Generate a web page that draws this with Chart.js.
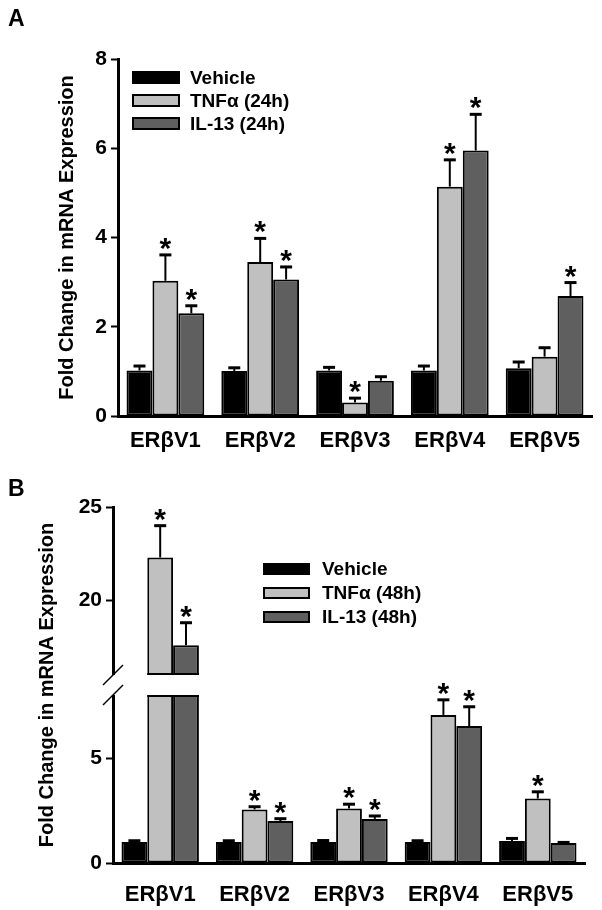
<!DOCTYPE html>
<html>
<head>
<meta charset="utf-8">
<script src="https://cdn.jsdelivr.net/npm/chart.js@4.4.1/dist/chart.umd.min.js"></script>
<style>
  body { margin: 0; background: #fff; }
  #wrap { position: relative; width: 602px; height: 910px; }
  canvas { position: absolute; left: 0; }
  .panel { position: absolute; left: 8px; font: bold 23px "Liberation Sans", Arial, sans-serif; line-height: 1; }
</style>
</head>
<body>
<div id="wrap">
  <canvas id="chartA" width="602" height="455" style="top:0"></canvas>
  <canvas id="chartB" width="602" height="455" style="top:455px"></canvas>
  <div class="panel" style="top:7px">A</div>
  <div class="panel" style="top:477px">B</div>
</div>
<script>
const FONT = '"Liberation Sans", Arial, sans-serif';
const categories = ['ERβV1', 'ERβV2', 'ERβV3', 'ERβV4', 'ERβV5'];
const seriesColors = ['#000000', '#c0c0c0', '#5f5f5f'];

// Panel A (24h)
const labelsA = ['Vehicle', 'TNFα (24h)', 'IL-13 (24h)'];
const vehicleA = [1.02, 1.01, 1.02, 1.02, 1.07];
const vehicleErrA = [0.10, 0.07, 0.07, 0.10, 0.14];
const tnfA = [3.03, 3.45, 0.30, 5.14, 1.33];
const tnfErrA = [0.58, 0.53, 0.10, 0.60, 0.20];
const il13A = [2.30, 3.06, 0.79, 5.95, 2.69];
const il13ErrA = [0.17, 0.28, 0.09, 0.81, 0.30];
const sigTnfA = [1, 1, 1, 1, 0];
const sigIl13A = [1, 1, 0, 1, 1];
const ticksA = [0, 2, 4, 6, 8];

// Panel B (48h), broken axis
const labelsB = ['Vehicle', 'TNFα (48h)', 'IL-13 (48h)'];
const vehicleB = [1.00, 1.00, 1.00, 1.00, 1.05];
const vehicleErrB = [0.06, 0.06, 0.07, 0.06, 0.12];
const tnfB = [22.3, 2.55, 2.60, 7.05, 3.07];
const tnfErrB = [1.70, 0.13, 0.20, 0.72, 0.32];
const il13B = [17.6, 2.00, 2.10, 6.52, 0.95];
const il13ErrB = [1.20, 0.11, 0.14, 0.92, 0.03];
const sigTnfB = [1, 1, 1, 1, 1];
const sigIl13B = [1, 1, 1, 1, 0];
const ticksB = [0, 5, 20, 25];
const breakLow = 8;    // top of the lower segment
const breakHigh = 16;  // bottom of the upper segment
const breakGap = 20;   // pixels between the segments

// linear scale with a gap between breakLow and breakHigh
class BrokenLinear extends Chart.LinearScale {
  buildTicks() {
    return ticksB.map(v => ({ value: v }));
  }
  getPixelForValue(value) {
    const half = (this.bottom - this.top - breakGap) / 2;
    if (value <= breakLow) return this.bottom - (value - this.min) / (breakLow - this.min) * half;
    if (value >= breakHigh) return this.top + half - (value - breakHigh) / (this.max - breakHigh) * half;
    return this.bottom - half - (value - breakLow) / (breakHigh - breakLow) * breakGap;
  }
  getValueForPixel(pixel) {
    const half = (this.bottom - this.top - breakGap) / 2;
    if (pixel >= this.bottom - half) return this.min + (this.bottom - pixel) / half * (breakLow - this.min);
    if (pixel <= this.top + half) return breakHigh + (this.top + half - pixel) / half * (this.max - breakHigh);
    return breakLow + (this.bottom - half - pixel) / breakGap * (breakHigh - breakLow);
  }
}
BrokenLinear.id = 'brokenLinear';
BrokenLinear.defaults = {};
Chart.register(BrokenLinear);

// error bars, asterisks, legend and the axis break
const barExtras = {
  id: 'barExtras',
  afterDatasetsDraw(chart, args, opts) {
    const ctx = chart.ctx;
    const y = chart.scales.y;
    const area = chart.chartArea;
    ctx.save();

    if (opts.broken) {
      const pHigh = y.getPixelForValue(breakHigh);
      const pLow = y.getPixelForValue(breakLow);
      ctx.fillStyle = '#fff';
      ctx.fillRect(area.left - 8, pHigh, area.right - area.left + 14, pLow - pHigh);
      ctx.strokeStyle = '#000';
      ctx.lineWidth = 2;
      chart.data.datasets.forEach((ds, di) => {
        chart.getDatasetMeta(di).data.forEach((bar, i) => {
          if (ds.data[i] <= breakHigh) return;
          ctx.beginPath();
          ctx.moveTo(bar.x - bar.width / 2, pHigh - 1);
          ctx.lineTo(bar.x + bar.width / 2, pHigh - 1);
          ctx.moveTo(bar.x - bar.width / 2, pLow + 1);
          ctx.lineTo(bar.x + bar.width / 2, pLow + 1);
          ctx.stroke();
        });
      });
      ctx.lineWidth = 1.5;
      [pHigh, pLow].forEach(py => {
        ctx.beginPath();
        ctx.moveTo(area.left - 10, py + 10);
        ctx.lineTo(area.left + 10, py - 10);
        ctx.stroke();
      });
    }

    ctx.font = 'bold 30px ' + FONT;
    const star = ctx.measureText('*');
    chart.data.datasets.forEach((ds, di) => {
      chart.getDatasetMeta(di).data.forEach((bar, i) => {
        const top = y.getPixelForValue(ds.data[i] + ds.errors[i]);
        ctx.strokeStyle = '#000';
        ctx.lineWidth = 2;
        ctx.beginPath();
        ctx.moveTo(bar.x, bar.y);
        ctx.lineTo(bar.x, top);
        ctx.stroke();
        ctx.lineWidth = 3;
        ctx.beginPath();
        ctx.moveTo(bar.x - 6, top);
        ctx.lineTo(bar.x + 6, top);
        ctx.stroke();
        if (ds.sig && ds.sig[i]) {
          // glyph bottom sits a few px above the cap
          ctx.fillStyle = '#000';
          ctx.textAlign = 'center';
          ctx.textBaseline = 'alphabetic';
          ctx.fillText('*', bar.x, top - 5 - star.actualBoundingBoxDescent);
        }
      });
    });

    // legend
    ctx.font = 'bold 19px ' + FONT;
    ctx.textAlign = 'left';
    ctx.textBaseline = 'middle';
    chart.data.datasets.forEach((ds, di) => {
      const ry = opts.legendY + di * opts.legendStep;
      ctx.fillStyle = ds.backgroundColor;
      ctx.fillRect(opts.legendX, ry, opts.boxW, opts.boxH);
      ctx.strokeStyle = '#000';
      ctx.lineWidth = 2;
      ctx.strokeRect(opts.legendX + 1, ry + 1, opts.boxW - 2, opts.boxH - 2);
      ctx.fillStyle = '#000';
      ctx.fillText(ds.label, opts.legendX + opts.boxW + opts.textGap, ry + opts.boxH / 2 + 1);
    });
    ctx.restore();
  }
};

function makeDatasets(labels, values, errors, sigs) {
  return labels.map((label, k) => ({
    label: label,
    data: values[k],
    errors: errors[k],
    sig: sigs[k],
    backgroundColor: seriesColors[k],
    borderColor: '#000',
    borderWidth: 2,
    borderSkipped: false
  }));
}

function makeOptions(cfg) {
  const boldFont = size => ({ family: FONT, size: size, weight: 'bold' });
  return {
    responsive: false,
    animation: false,
    layout: { padding: cfg.padding },
    datasets: { bar: { categoryPercentage: 0.82, barPercentage: 1.0 } },
    scales: {
      x: {
        grid: { display: false, drawTicks: false },
        border: { display: true, color: '#000', width: 3 },
        ticks: { color: '#000', font: boldFont(22), padding: cfg.xPad, maxRotation: 0 },
        afterFit: s => { s.height = cfg.xHeight; }
      },
      y: Object.assign({
        min: 0,
        max: cfg.yMax,
        grid: { drawOnChartArea: false, drawTicks: true, tickLength: 7, tickWidth: 2, tickColor: '#000' },
        border: { display: true, color: '#000', width: 3 },
        ticks: { color: '#000', font: boldFont(21), padding: 4 },
        title: { display: true, text: 'Fold Change in mRNA Expression', color: '#000', font: boldFont(20), padding: { top: 5, bottom: 0 } },
        afterFit: s => { s.width = cfg.yWidth; }
      }, cfg.yExtra),
    },
    plugins: {
      legend: { display: false },
      tooltip: { enabled: false },
      barExtras: cfg.extras
    }
  };
}

new Chart(document.getElementById('chartA'), {
  type: 'bar',
  data: {
    labels: categories,
    datasets: makeDatasets(labelsA, [vehicleA, tnfA, il13A], [vehicleErrA, tnfErrA, il13ErrA], [null, sigTnfA, sigIl13A])
  },
  options: makeOptions({
    padding: { left: 50, right: 10, top: 59, bottom: 0 },
    xPad: 12, xHeight: 39, yWidth: 68, yMax: 8,
    yExtra: { afterBuildTicks: s => { s.ticks = ticksA.map(v => ({ value: v })); } },
    extras: { broken: false, legendX: 132, legendY: 71, legendStep: 23, boxW: 48, boxH: 13, textGap: 10 }
  }),
  plugins: [barExtras]
});

new Chart(document.getElementById('chartB'), {
  type: 'bar',
  data: {
    labels: categories,
    datasets: makeDatasets(labelsB, [vehicleB, tnfB, il13B], [vehicleErrB, tnfErrB, il13ErrB], [null, sigTnfB, sigIl13B])
  },
  options: makeOptions({
    padding: { left: 30, right: 17, top: 52, bottom: 0 },
    xPad: 19, xHeight: 47, yWidth: 83, yMax: 25,
    yExtra: { type: 'brokenLinear' },
    extras: { broken: true, legendX: 263, legendY: 108, legendStep: 24, boxW: 47, boxH: 12, textGap: 12 }
  }),
  plugins: [barExtras]
});
</script>
</body>
</html>
